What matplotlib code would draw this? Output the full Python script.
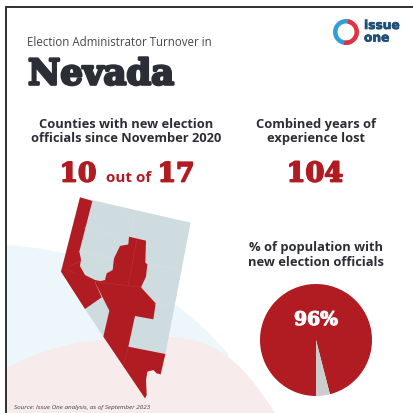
import numpy as np
import matplotlib
matplotlib.use("Agg")
import matplotlib.pyplot as plt
from matplotlib.patches import Polygon, PathPatch, Wedge, Rectangle
from matplotlib.path import Path
import matplotlib.patheffects as pe

RED = "#b01c22"
GREY = "#cfdcdf"
INK = "#2c2e35"

state_outline = [(120,22),(452,98),(376,492),(362,553),(350,550),(340,540),(322,545),(318,570),(320,615),(315,625),(190,440),(135,357),(63,245)]
west_counties = [(120,22),(157,33),(118,185),(123,208),(120,228),(135,255),(165,270),(190,275),(165,277),(185,322),(135,357),(63,245)]
central_counties = [(267,140),(318,152),(316,218),(322,222),(318,260),(303,292),(347,340),(340,388),(285,378),(265,470),(376,492),(362,553),(350,550),(340,540),(322,545),(318,570),(320,615),(315,625),(190,440),(208,362),(165,277),(195,270),(200,250),(218,240),(222,205),(240,168),(265,163)]
grey_borders = [[(285,62),(272,140)],[(135,112),(178,125),(228,137),(240,158),(262,163)],[(118,185),(222,205)],[(320,220),(425,242)],[(345,342),(400,352)]]
red_borders = [[(290,150),(265,285)],[(165,275),(305,292)],[(265,470),(250,530)],[(85,230),(125,212)],[(80,238),(105,250)]]

population_share = [96, 4]
share_label = "96%"
heading = "Election Administrator Turnover in"
state_name = "Nevada"
left_caption = "Counties with new election\nofficials since November 2020"
mid_caption = "Combined years of\nexperience lost"
pie_caption = "% of population with\nnew election officials"
source_note = "Source: Issue One analysis, as of September 2023"


def map_xy(points):
    # Map outline points are kept in a 3x working grid offset from the page
    return [(40 + x / 3, 190 + y / 3) for x, y in points]


fig = plt.figure(figsize=(4.14, 4.13), dpi=100, facecolor="white")
ax = fig.add_axes([0, 0, 1, 1])
ax.set_xlim(0, 414)
ax.set_ylim(413, 0)
ax.axis("off")

# Soft background arcs
blue_arc = Path([(7,245),(90,250),(170,285),(228,354),(228,413),(7,413),(7,245)],
                [Path.MOVETO,Path.CURVE4,Path.CURVE4,Path.CURVE4,Path.LINETO,Path.LINETO,Path.CLOSEPOLY])
ax.add_patch(PathPatch(blue_arc, fc="#edf6fa", ec="none", zorder=1))
pink_arc = Path([(7,368),(50,345),(90,338),(135,338),(215,330),(240,360),(275,413),(7,413),(7,368)],
                [Path.MOVETO,Path.CURVE4,Path.CURVE4,Path.CURVE4,Path.CURVE4,Path.CURVE4,Path.CURVE4,Path.LINETO,Path.CLOSEPOLY])
ax.add_patch(PathPatch(pink_arc, fc="#f7ebeb", ec="none", zorder=2))

# Page frame: left and top rules only
ax.add_patch(Rectangle((5,6), 409, 1.6, fc="#33343a", ec="none", zorder=3))
ax.add_patch(Rectangle((5,6), 2, 407, fc="#33343a", ec="none", zorder=3))

# County map
ax.add_patch(Polygon(map_xy(state_outline), fc=GREY, ec="none", zorder=4))
ax.add_patch(Polygon(map_xy(west_counties), fc=RED, ec="none", zorder=5))
ax.add_patch(Polygon(map_xy(central_counties), fc=RED, ec="none", zorder=5))
for line in grey_borders:
    xs, ys = zip(*map_xy(line))
    ax.plot(xs, ys, color="#d8e2e4", lw=0.3, zorder=6)
for line in red_borders:
    xs, ys = zip(*map_xy(line))
    ax.plot(xs, ys, color="#bd3a40", lw=0.3, zorder=6)

# Population pie
ax.pie(population_share, colors=[RED, "#cccccc"], center=(316,340), radius=56,
       startangle=90, counterclock=True, frame=True,
       wedgeprops=dict(linewidth=0, zorder=7))
ax.set_xlim(0, 414)
ax.set_ylim(413, 0)
ax.set_aspect("auto")
ax.axis("off")

SANS = "Open Sans"
SLAB = "DejaVu Serif"
heavy = [pe.withStroke(linewidth=1.9, foreground=INK)]
heavy_red = [pe.withStroke(linewidth=1.3, foreground=RED)]
heavy_white = [pe.withStroke(linewidth=0.8, foreground="white")]

ax.text(27, 42, heading, fontsize=8.3, family=SANS, color="#45474d", va="center", zorder=9)
ax.text(28, 84.5, state_name, fontsize=25.5, family=SLAB, weight="bold", color=INK, va="baseline", path_effects=heavy, zorder=9)
ax.text(126, 131.5, left_caption, fontsize=9.3, family=SANS, weight="bold", color=INK, ha="center", va="center", linespacing=1.1, zorder=9)
ax.text(316, 131.5, mid_caption, fontsize=9.3, family=SANS, weight="bold", color=INK, ha="center", va="center", linespacing=1.1, zorder=9)
ax.text(316, 255, pie_caption, fontsize=9.3, family=SANS, weight="bold", color=INK, ha="center", va="center", linespacing=1.1, zorder=9)

ax.text(78, 174, "10", fontsize=19, family=SLAB, weight="bold", color=RED, ha="center", va="center", path_effects=heavy_red, zorder=9)
ax.text(129, 178, "out of", fontsize=11, family=SANS, weight="bold", color=RED, ha="center", va="center", zorder=9)
ax.text(176, 174, "17", fontsize=19, family=SLAB, weight="bold", color=RED, ha="center", va="center", path_effects=heavy_red, zorder=9)
ax.text(315, 174, "104", fontsize=19.5, family=SLAB, weight="bold", color=RED, ha="center", va="center", path_effects=heavy_red, zorder=9)
ax.text(316, 320, share_label, fontsize=13.5, family=SLAB, weight="bold", color="white", ha="center", va="center", path_effects=heavy_white, zorder=9)
ax.text(14, 407, source_note, fontsize=4.5, family=SANS, style="italic", color="#3d3f45", va="center", zorder=9)

# Logo: two-colour ring and wordmark
ax.add_patch(Wedge((346,32), 13, 60, 300, width=4.5, fc="#2f9fd6", ec="none", zorder=9))
ax.add_patch(Wedge((346,32), 13, -80, 100, width=4.5, fc="#e0333f", ec="none", zorder=9))
logo_stroke = [pe.withStroke(linewidth=0.5, foreground="#1e4f78")]
ax.text(364, 25.5, "issue", fontsize=8.8, family="DejaVu Sans", weight="bold", color="#1e4f78", va="center", path_effects=logo_stroke, zorder=9)
ax.text(364, 38, "one", fontsize=8.8, family="DejaVu Sans", weight="bold", color="#1e4f78", va="center", path_effects=logo_stroke, zorder=9)

fig.savefig("out.png", dpi=100, facecolor="white")
